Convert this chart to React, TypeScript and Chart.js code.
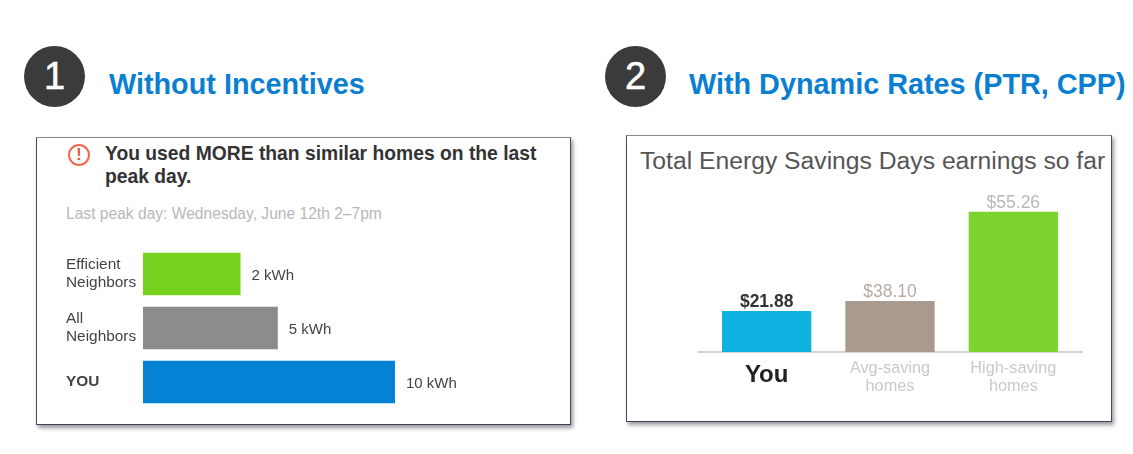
import React, { useEffect, useRef } from "react";
import { Chart, registerables } from "chart.js";

Chart.register(...registerables);

const FONT = '"Liberation Sans", Arial, sans-serif';

const usageCategories = [["Efficient", "Neighbors"], ["All", "Neighbors"], "YOU"];
// Bar lengths as drawn in the picture (the printed labels are not to scale).
const usageBarLengths = [3.87, 5.35, 10];
const usageLabels = ["2 kWh", "5 kWh", "10 kWh"];
const usageColors = ["#76d11f", "#8c8c8c", "#0682d4"];

const earningsCategories = ["You", ["Avg-saving", "homes"], ["High-saving", "homes"]];
// Bar heights as drawn in the picture, scaled so that "You" equals its label.
const earningsBarHeights = [21.88, 27.2, 74.7];
const earningsLabels = ["$21.88", "$38.10", "$55.26"];
const earningsColors = ["#0db2e0", "#a89a8e", "#7dd42e"];
const earningsLabelColors = ["#333333", "#b5aca4", "#b9b9b9"];

const usageValueLabels = {
  id: "usageValueLabels",
  afterDatasetsDraw(chart: any) {
    const { ctx } = chart;
    ctx.save();
    ctx.font = `15px ${FONT}`;
    ctx.fillStyle = "#444444";
    ctx.textAlign = "left";
    ctx.textBaseline = "middle";
    chart.getDatasetMeta(0).data.forEach((bar: any, i: number) => {
      ctx.fillText(usageLabels[i], bar.x + 11, bar.y + 2);
    });
    ctx.restore();
  },
};

const earningsDecor = {
  id: "earningsDecor",
  beforeDatasetsDraw(chart: any) {
    const { ctx, chartArea, scales } = chart;
    const y = scales.y.getPixelForValue(0);
    ctx.save();
    ctx.strokeStyle = "#c9c5c2";
    ctx.lineWidth = 1.5;
    ctx.beginPath();
    ctx.moveTo(chartArea.left - 7, y);
    ctx.lineTo(chartArea.right + 8, y);
    ctx.stroke();
    ctx.restore();
  },
  afterDatasetsDraw(chart: any) {
    const { ctx } = chart;
    ctx.save();
    ctx.textAlign = "center";
    ctx.textBaseline = "bottom";
    chart.getDatasetMeta(0).data.forEach((bar: any, i: number) => {
      ctx.font = `${i === 0 ? "bold " : ""}${i === 0 ? 17.5 : 17.5}px ${FONT}`;
      ctx.fillStyle = earningsLabelColors[i];
      ctx.fillText(earningsLabels[i], bar.x, bar.y);
    });
    ctx.restore();
  },
};

function UsageChart() {
  const ref = useRef<HTMLCanvasElement>(null);
  useEffect(() => {
    const chart = new Chart(ref.current!, {
      type: "bar",
      data: {
        labels: usageCategories as any,
        datasets: [
          {
            data: usageBarLengths,
            backgroundColor: usageColors,
            barPercentage: 1,
            categoryPercentage: 0.79,
          },
        ],
      },
      plugins: [usageValueLabels],
      options: {
        indexAxis: "y",
        animation: false,
        responsive: false,
        devicePixelRatio: 1,
        layout: { padding: { top: 6, bottom: 12, left: 30, right: 49 } },
        plugins: { legend: { display: false }, tooltip: { enabled: false } },
        scales: {
          x: { display: false, min: 0, max: 15 },
          y: {
            afterFit: (s: any) => {
              s.width = 77;
              s.paddingTop = 0;
              s.paddingBottom = 0;
            },
            grid: { display: false },
            border: { display: false },
            ticks: {
              crossAlign: "far",
              padding: 7,
              color: "#444444",
              font: (c: any) => ({
                family: FONT,
                size: 15.4,
                lineHeight: 1.17,
                weight: c.index === 2 ? "bold" : "normal",
              }),
            },
          },
        },
      },
    } as any);
    return () => chart.destroy();
  }, []);
  return (
    <canvas
      ref={ref}
      width={534}
      height={180}
      style={{ position: "absolute", left: 36, top: 241 }}
    />
  );
}

function EarningsChart() {
  const ref = useRef<HTMLCanvasElement>(null);
  useEffect(() => {
    const chart = new Chart(ref.current!, {
      type: "bar",
      data: {
        labels: earningsCategories as any,
        datasets: [
          {
            data: earningsBarHeights,
            backgroundColor: earningsColors,
            barPercentage: 1,
            categoryPercentage: 0.724,
          },
        ],
      },
      plugins: [earningsDecor],
      options: {
        animation: false,
        responsive: false,
        devicePixelRatio: 1,
        layout: { padding: { top: 10, bottom: 0, left: 75, right: 33 } },
        plugins: { legend: { display: false }, tooltip: { enabled: false } },
        scales: {
          y: { display: false, min: 0, max: 81 },
          x: {
            afterFit: (s: any) => {
              s.height = 53;
            },
            grid: { display: false },
            border: { display: false },
            ticks: {
              padding: 0,
              maxRotation: 0,
              autoSkip: false,
              color: (c: any) => (c.index === 0 ? "#222222" : "#c9c9c9"),
              font: (c: any) =>
                c.index === 0
                  ? { family: FONT, size: 24, weight: "bold", lineHeight: 1.25 }
                  : { family: FONT, size: 16.3, weight: "normal", lineHeight: 1.1 },
            },
          },
        },
      },
    } as any);
    return () => chart.destroy();
  }, []);
  return (
    <canvas
      ref={ref}
      width={478}
      height={215}
      style={{ position: "absolute", left: 630, top: 190 }}
    />
  );
}

const text = (
  content: string,
  left: number,
  top: number,
  size: number,
  color: string,
  weight: number | string = "normal"
) => (
  <div
    style={{
      position: "absolute",
      left,
      top,
      fontSize: size,
      lineHeight: `${size + 4}px`,
      color,
      fontWeight: weight as any,
      whiteSpace: "nowrap",
    }}
  >
    {content}
  </div>
);

const badge = (n: string, left: number) => (
  <div
    style={{
      position: "absolute",
      left,
      top: 46,
      width: 61,
      height: 61,
      borderRadius: "50%",
      background: "#3b3b3b",
      color: "#ffffff",
      fontSize: 38,
      lineHeight: "60px",
      textAlign: "center",
      WebkitTextStroke: "0.6px #ffffff",
    }}
  >
    {n}
  </div>
);

const card = (left: number, top: number, width: number, height: number) => (
  <div
    style={{
      position: "absolute",
      left,
      top,
      width,
      height,
      boxSizing: "border-box",
      background: "#ffffff",
      borderLeft: "1px solid #4a4a60",
      borderTop: "1px solid #8a8a98",
      borderRight: "1px solid #4a4a55",
      borderBottom: "1px solid #3f3f55",
      boxShadow: "2px 3px 4px rgba(70,70,80,0.55)",
    }}
  />
);

export default function App() {
  return (
    <div
      style={{
        position: "absolute",
        left: 0,
        top: 0,
        width: 1133,
        height: 454,
        overflow: "hidden",
        background: "#ffffff",
        fontFamily: FONT,
        filter: "blur(0.7px)",
      }}
    >
      {badge("1", 24)}
      {text("Without Incentives", 109, 68, 28.8, "#0a7fd2", "bold")}
      {card(36, 137, 535, 288)}
      <div
        style={{
          position: "absolute",
          left: 68,
          top: 144,
          width: 22,
          height: 22,
          boxSizing: "border-box",
          border: "2px solid #f0694c",
          borderRadius: "50%",
          color: "#e8553a",
          fontSize: 16,
          fontWeight: "bold",
          lineHeight: "18px",
          textAlign: "center",
        }}
      >
        !
      </div>
      {text("You used MORE than similar homes on the last", 105, 142, 19.3, "#333333", "bold")}
      {text("peak day.", 105, 165, 19.3, "#333333", "bold")}
      {text("Last peak day: Wednesday, June 12th 2–7pm", 66, 204, 15.6, "#b8b8b8")}
      <UsageChart />

      {badge("2", 605)}
      {text("With Dynamic Rates (PTR, CPP)", 689, 68, 28.8, "#0a7fd2", "bold")}
      {card(626, 135, 486, 287)}
      {text("Total Energy Savings Days earnings so far", 640, 147, 24.7, "#555555")}
      <EarningsChart />
    </div>
  );
}
